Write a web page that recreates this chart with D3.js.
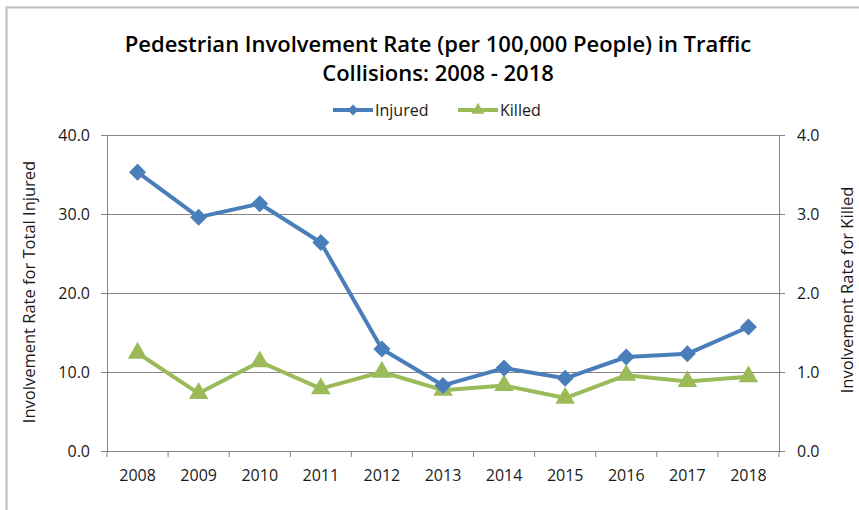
<!DOCTYPE html>
<html><head><meta charset="utf-8">
<script src="https://cdn.jsdelivr.net/npm/d3@7"></script>
<style>
html,body{margin:0;padding:0;background:#fff;}
svg{display:block;font-family:"Open Sans",sans-serif;}
</style></head>
<body>
<svg id="chart" width="859" height="510"></svg>
<script>
const years = ["2008","2009","2010","2011","2012","2013","2014","2015","2016","2017","2018"];
const injured = [35.3, 29.6, 31.3, 26.4, 12.9, 8.3, 10.5, 9.2, 11.9, 12.3, 15.7];
const killed = [1.24, 0.73, 1.13, 0.79, 1.00, 0.77, 0.83, 0.67, 0.96, 0.88, 0.94];
const leftTicks = [0, 10, 20, 30, 40];
const rightTicks = [0, 1, 2, 3, 4];
const titleLines = ["Pedestrian Involvement Rate (per 100,000 People) in Traffic", "Collisions: 2008 - 2018"];

const svg = d3.select("#chart");
const W = 859, H = 510;
const m = {left:107, right:80, top:135, bottom:59};
const iw = W - m.left - m.right, ih = H - m.top - m.bottom;
const FS = "16px";

// outer border
svg.append("path").attr("d", `M6.5,${H}V7.5H${W}`).attr("fill","none").attr("stroke","#bdbdbd").attr("stroke-width",2);

const x = d3.scaleBand().domain(years).range([m.left, m.left+iw]);
const yL = d3.scaleLinear().domain([0,40]).range([m.top+ih, m.top]);
const yR = d3.scaleLinear().domain([0,4]).range([m.top+ih, m.top]);
const grey = "#868686";

// gridlines
svg.append("g").selectAll("line").data(leftTicks.slice(1)).join("line")
  .attr("x1", m.left).attr("x2", m.left+iw)
  .attr("y1", d=>Math.round(yL(d))+0.5).attr("y2", d=>Math.round(yL(d))+0.5)
  .attr("stroke", grey).attr("stroke-width",1);

// left axis
const gL = svg.append("g").attr("transform",`translate(${m.left},0)`)
  .call(d3.axisLeft(yL).tickValues(leftTicks).tickFormat(d3.format(".1f")).tickSize(6).tickPadding(11));
// right axis
const gR = svg.append("g").attr("transform",`translate(${m.left+iw},0)`)
  .call(d3.axisRight(yR).tickValues(rightTicks).tickFormat(d3.format(".1f")).tickSize(6).tickPadding(12));
// bottom axis
const gB = svg.append("g").attr("transform",`translate(0,${m.top+ih})`)
  .call(d3.axisBottom(x).tickSize(0).tickPadding(19));
// bottom ticks at category boundaries
gB.append("g").selectAll("line").data(d3.range(years.length+1)).join("line")
  .attr("x1", i=>m.left + i*x.step()).attr("x2", i=>m.left + i*x.step())
  .attr("y1",0).attr("y2",6).attr("stroke",grey);

[gL,gR,gB].forEach(g=>{
  g.select(".domain").attr("stroke",grey);
  g.selectAll(".tick line").attr("stroke",grey);
  g.selectAll("text").attr("fill","#1a1a1a").style("font-size",FS).style("font-family","'Open Sans',sans-serif");
});
gB.select(".domain").attr("d", `M${m.left},0.5H${m.left+iw}`);

// axis titles
svg.append("text").attr("transform",`translate(35,${m.top+ih/2 - 1}) rotate(-90)`)
  .attr("text-anchor","middle").style("font-size","16.5px").attr("fill","#1a1a1a")
  .text("Involvement Rate for Total Injured");
svg.append("text").attr("transform",`translate(853,${m.top+ih/2 - 3}) rotate(-90)`)
  .attr("text-anchor","middle").style("font-size","16.5px").attr("fill","#1a1a1a")
  .text("Involvement Rate for Killed");

// title
svg.append("g").selectAll("text").data(titleLines).join("text")
  .attr("x", 438).attr("y",(d,i)=>52 + i*29)
  .attr("text-anchor","middle").style("font-size","22px").style("font-weight","600").attr("fill","#000")
  .text(d=>d);

const blue = "#4a7ebb", green = "#9bbb59";
const cx = d => x(d) + x.bandwidth()/2;

// lines
svg.append("path").datum(killed).attr("fill","none").attr("stroke",green).attr("stroke-width",4).attr("stroke-linejoin","round")
  .attr("d", d3.line().x((d,i)=>cx(years[i])).y(d=>yR(d)));
svg.append("path").datum(injured).attr("fill","none").attr("stroke",blue).attr("stroke-width",4).attr("stroke-linejoin","round")
  .attr("d", d3.line().x((d,i)=>cx(years[i])).y(d=>yL(d)));

const tri = d3.symbol().type(d3.symbolTriangle).size(165);
const dia = d3.symbol().type(d3.symbolSquare).size(145);
svg.append("g").selectAll("path").data(killed).join("path")
  .attr("transform",(d,i)=>`translate(${cx(years[i])},${yR(d)})`).attr("d",tri()).attr("fill",green);
svg.append("g").selectAll("path").data(injured).join("path")
  .attr("transform",(d,i)=>`translate(${cx(years[i])},${yL(d)}) rotate(45)`).attr("d",dia()).attr("fill",blue);

// legend
const leg = svg.append("g");
const items = [{name:"Injured", c:blue, x0:333, sym:"dia"},{name:"Killed", c:green, x0:458, sym:"tri"}];
items.forEach(it=>{
  const g = leg.append("g").attr("transform",`translate(${it.x0},110)`);
  g.append("line").attr("x1",0).attr("x2",40).attr("stroke",it.c).attr("stroke-width",4);
  if(it.sym==="dia") g.append("path").attr("transform","translate(20,0) rotate(45)").attr("d",d3.symbol().type(d3.symbolSquare).size(60)()).attr("fill",it.c);
  else g.append("path").attr("transform","translate(20,0)").attr("d",d3.symbol().type(d3.symbolTriangle).size(70)()).attr("fill",it.c);
  g.append("text").attr("x",42).attr("y",6).style("font-size",FS).attr("fill","#1a1a1a").text(it.name);
});
</script>
</body></html>
